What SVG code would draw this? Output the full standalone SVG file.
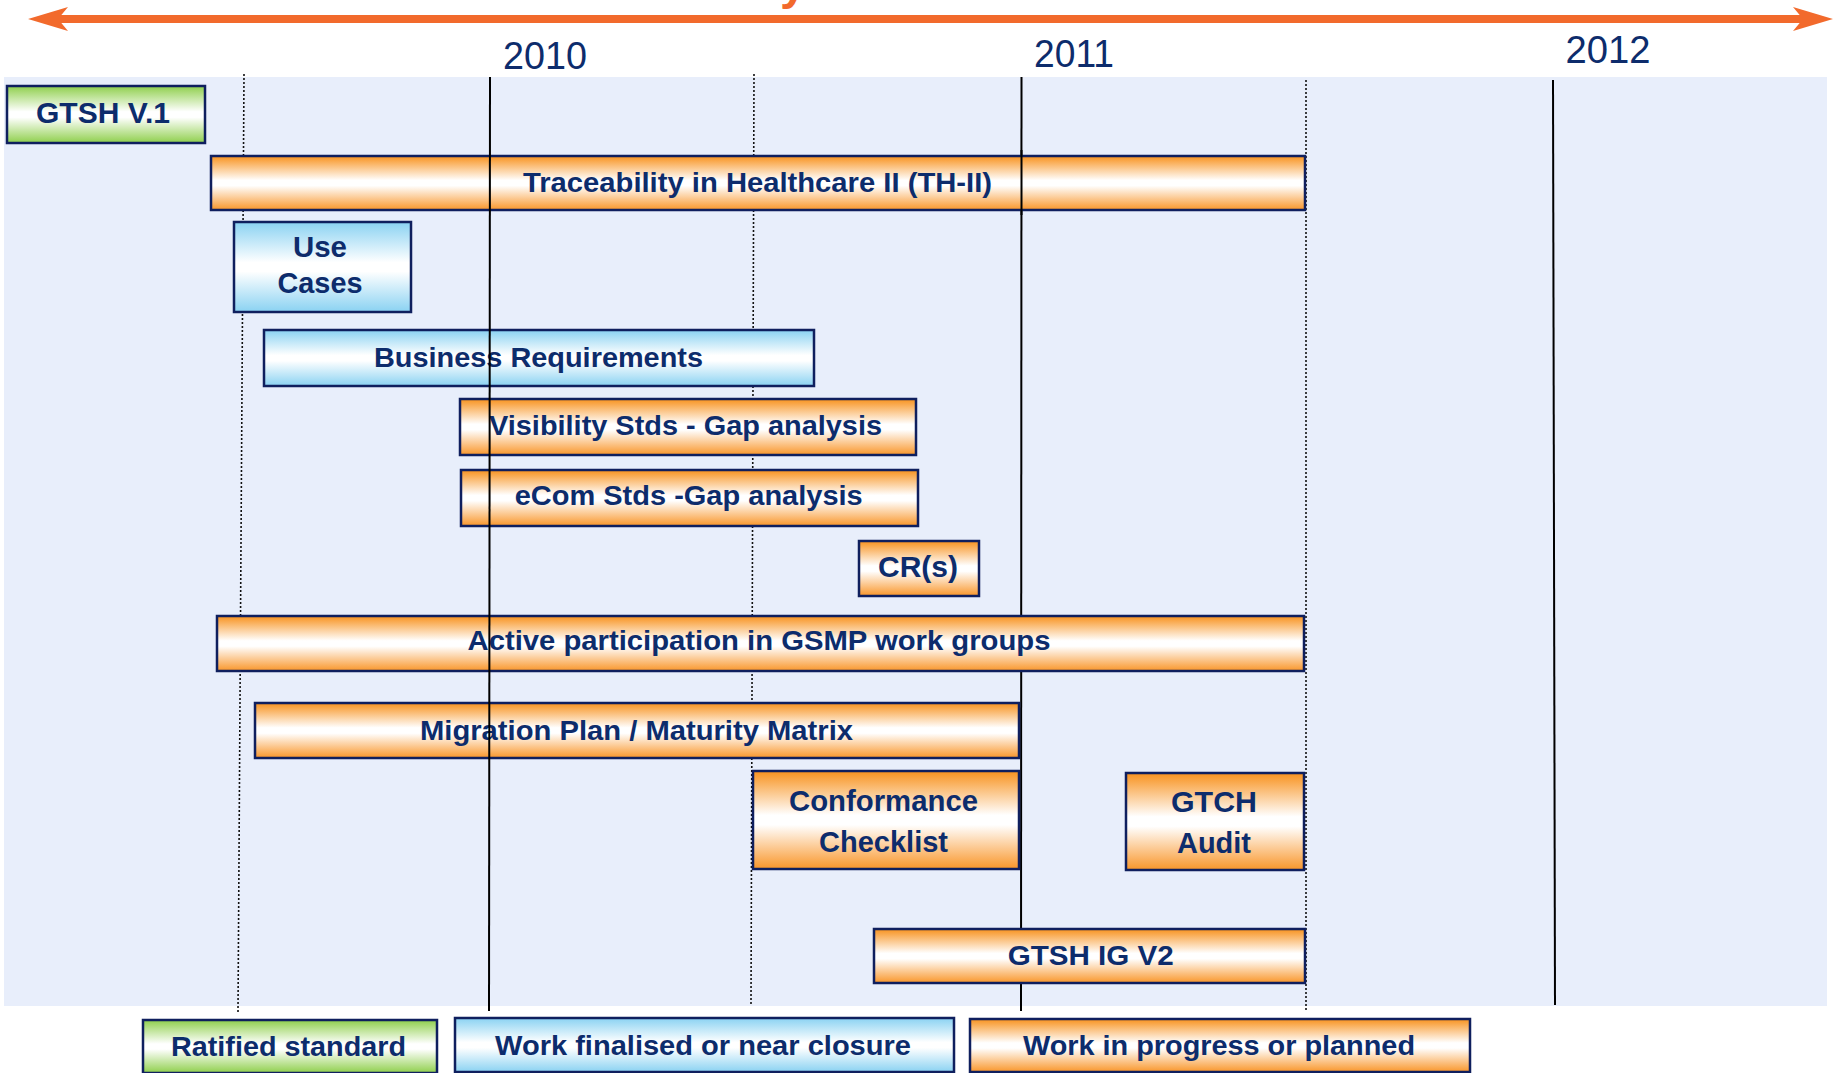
<svg xmlns="http://www.w3.org/2000/svg" width="1839" height="1073" viewBox="0 0 1839 1073">
<defs>
<linearGradient id="gOrange" x1="0" y1="0" x2="0" y2="1">
<stop offset="0" stop-color="#F8921E"/><stop offset="0.45" stop-color="#FFFFFF"/><stop offset="0.55" stop-color="#FFFFFF"/><stop offset="1" stop-color="#F9962A"/>
</linearGradient>
<linearGradient id="gBlue" x1="0" y1="0" x2="0" y2="1">
<stop offset="0" stop-color="#8AD2F2"/><stop offset="0.45" stop-color="#FFFFFF"/><stop offset="0.55" stop-color="#FFFFFF"/><stop offset="1" stop-color="#8AD2F2"/>
</linearGradient>
<linearGradient id="gGreen" x1="0" y1="0" x2="0" y2="1">
<stop offset="0" stop-color="#8FCF4C"/><stop offset="0.45" stop-color="#FFFFFF"/><stop offset="0.55" stop-color="#FFFFFF"/><stop offset="1" stop-color="#8FCF4C"/>
</linearGradient>
<marker id="arrowHead" markerUnits="userSpaceOnUse" viewBox="0 0 40 24" markerWidth="40" markerHeight="24" refX="10" refY="12" orient="auto-start-reverse">
<path d="M0,0 L40,12 L0,24 L10,12 Z" fill="#F26A2C"/>
</marker>
</defs>
<style>
.box{stroke:#0F1F5E;stroke-width:2.5}
.orange{fill:url(#gOrange)}
.blue{fill:url(#gBlue)}
.green{fill:url(#gGreen)}
.lbl{font-family:"Liberation Sans",Arial,sans-serif;font-weight:bold;fill:#0D2C6C;text-anchor:middle;font-size:28px}
.big{font-size:30px}
.year{font-family:"Liberation Sans",Arial,sans-serif;fill:#0D2C6C;text-anchor:middle;font-size:38px}
.dot{stroke:#111;stroke-width:1.6;stroke-dasharray:2 2;fill:none}
.solid{stroke:#000;stroke-width:2;fill:none}
</style>
<rect width="1839" height="1073" fill="#FFFFFF"/>
<text x="780" y="-1" font-family="Liberation Sans, Arial, sans-serif" font-weight="bold" font-size="48" fill="#F26A2C">y</text>
<rect x="4" y="77" width="1823" height="929" fill="#E8EEFB"/>
<g id="timeline">
<line x1="58" y1="19" x2="1803" y2="19" stroke="#F26A2C" stroke-width="8" marker-start="url(#arrowHead)" marker-end="url(#arrowHead)"/>
<text class="year" x="545" y="69" textLength="84" lengthAdjust="spacingAndGlyphs">2010</text>
<text class="year" x="1074" y="67" textLength="80" lengthAdjust="spacingAndGlyphs">2011</text>
<text class="year" x="1608" y="63" textLength="85" lengthAdjust="spacingAndGlyphs">2012</text>
</g>
<g id="gridlines">
<line class="dot" x1="244" y1="74" x2="238" y2="1012"/>
<line class="dot" x1="754" y1="74" x2="751" y2="1005"/>
<line class="dot" x1="1306" y1="80" x2="1306" y2="1011"/>
<line class="solid" x1="1021.5" y1="77" x2="1021" y2="1011"/>
<line class="solid" x1="1553" y1="80" x2="1555" y2="1005"/>
</g>
<g id="gtsh-v1"><rect class="box green" x="7" y="86" width="198" height="57"/><text class="lbl big" x="103" y="123" textLength="134" lengthAdjust="spacingAndGlyphs">GTSH V.1</text></g>
<g id="th-ii"><rect class="box orange" x="211" y="156" width="1094" height="54"/><text class="lbl" x="757.5" y="192" textLength="469" lengthAdjust="spacingAndGlyphs">Traceability in Healthcare II (TH-II)</text></g>
<g id="use-cases"><rect class="box blue" x="234" y="222" width="177" height="90"/><text class="lbl big" x="320" y="257" textLength="54" lengthAdjust="spacingAndGlyphs">Use</text><text class="lbl big" x="320" y="293" textLength="85" lengthAdjust="spacingAndGlyphs">Cases</text></g>
<g id="business-requirements"><rect class="box blue" x="264" y="330" width="550" height="56"/><text class="lbl" x="538.5" y="367" textLength="329" lengthAdjust="spacingAndGlyphs">Business Requirements</text></g>
<g id="visibility-stds"><rect class="box orange" x="460" y="399" width="456" height="56"/><text class="lbl" x="685.5" y="435" textLength="393" lengthAdjust="spacingAndGlyphs">Visibility Stds - Gap analysis</text></g>
<g id="ecom-stds"><rect class="box orange" x="461" y="470" width="457" height="56"/><text class="lbl" x="688.7" y="505" textLength="348" lengthAdjust="spacingAndGlyphs">eCom Stds -Gap analysis</text></g>
<g id="crs"><rect class="box orange" x="859" y="541" width="120" height="55"/><text class="lbl big" x="918" y="577" textLength="80" lengthAdjust="spacingAndGlyphs">CR(s)</text></g>
<g id="active-participation"><rect class="box orange" x="217" y="616" width="1087" height="55"/><text class="lbl" x="759" y="650" textLength="583" lengthAdjust="spacingAndGlyphs">Active participation in GSMP work groups</text></g>
<g id="migration-plan"><rect class="box orange" x="255" y="703" width="764" height="55"/><text class="lbl" x="636.5" y="740" textLength="433" lengthAdjust="spacingAndGlyphs">Migration Plan / Maturity Matrix</text></g>
<g id="conformance-checklist"><rect class="box orange" x="753" y="771" width="266" height="98"/><text class="lbl big" x="883.5" y="811" textLength="189" lengthAdjust="spacingAndGlyphs">Conformance</text><text class="lbl big" x="883.5" y="852" textLength="129" lengthAdjust="spacingAndGlyphs">Checklist</text></g>
<g id="gtch-audit"><rect class="box orange" x="1126" y="773" width="178" height="97"/><text class="lbl big" x="1214" y="812" textLength="86" lengthAdjust="spacingAndGlyphs">GTCH</text><text class="lbl big" x="1214" y="853" textLength="74" lengthAdjust="spacingAndGlyphs">Audit</text></g>
<g id="gtsh-ig-v2"><rect class="box orange" x="874" y="929" width="431" height="54"/><text class="lbl" x="1090.7" y="965" textLength="166" lengthAdjust="spacingAndGlyphs">GTSH IG V2</text></g>
<g id="overlay-lines">
<line class="solid" x1="490" y1="77" x2="489" y2="1011"/>
<line class="solid" x1="1021.5" y1="150" x2="1021.5" y2="215"/>
</g>
<g id="legend-ratified"><rect class="box green" x="143" y="1020" width="294" height="53"/><text class="lbl" x="288.5" y="1056" textLength="235" lengthAdjust="spacingAndGlyphs">Ratified standard</text></g>
<g id="legend-finalised"><rect class="box blue" x="455" y="1018" width="499" height="54"/><text class="lbl" x="703" y="1055" textLength="416" lengthAdjust="spacingAndGlyphs">Work finalised or near closure</text></g>
<g id="legend-progress"><rect class="box orange" x="970" y="1019" width="500" height="53"/><text class="lbl" x="1219" y="1055" textLength="392" lengthAdjust="spacingAndGlyphs">Work in progress or planned</text></g>
</svg>
